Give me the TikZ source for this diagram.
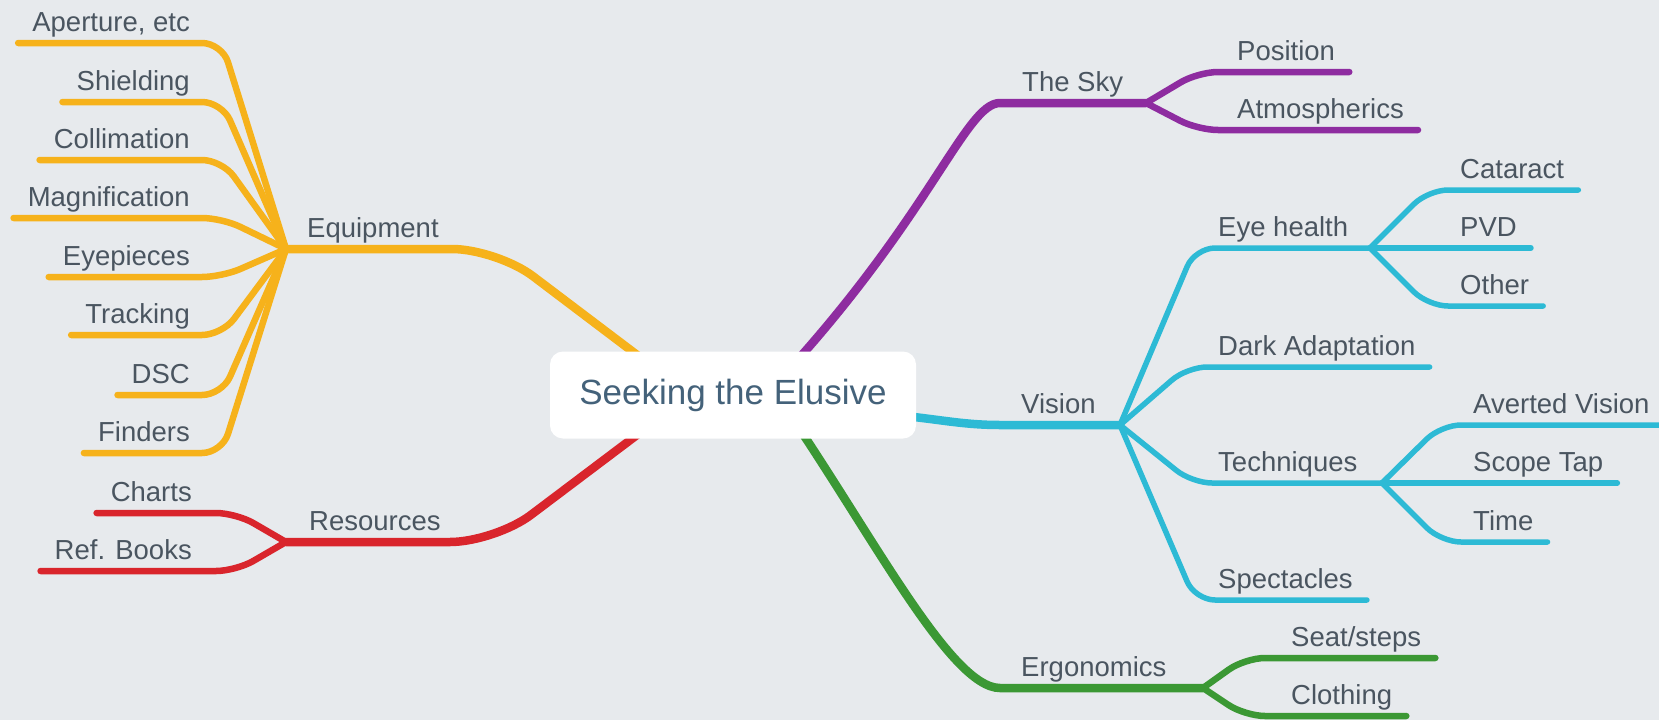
\documentclass[tikz,border=0pt]{standalone}
\usepackage{fontspec}
\setmainfont{Liberation Sans}
\usetikzlibrary{backgrounds}

\definecolor{paper}{HTML}{E7EAED}
\definecolor{inkgray}{HTML}{4A5560}
\definecolor{inkblue}{HTML}{44627A}
\definecolor{equipcol}{HTML}{F6B21B}
\definecolor{skycol}{HTML}{8E2CA0}
\definecolor{visioncol}{HTML}{2DBAD5}
\definecolor{rescol}{HTML}{D9252C}
\definecolor{ergocol}{HTML}{3B9834}

\begin{document}
\begin{tikzpicture}[
        x=1pt, y=1pt,
        topic/.style={rectangle, fill=white, rounded corners=13pt, minimum width=366pt, minimum height=87pt, text=inkblue, font=\fontsize{35}{40}\selectfont},
        lbl/.style={inner xsep=14pt, inner ysep=5pt, text height=20pt, text depth=6pt, text=inkgray, font=\fontsize{27.5}{32}\selectfont},
        lleaf/.style={lbl, anchor=south east},
        rleaf/.style={lbl, anchor=south west},
        branch/.style={line width=8.5pt, line cap=round, rounded corners=45pt},
        curvedbranch/.style={line width=8.5pt, line cap=round, sharp corners},
        twig/.style={line width=6.5pt, line cap=round, rounded corners=20pt},
        thintwig/.style={twig, line width=5.5pt},
    ]

    % paper
    \begin{scope}[on background layer]
        \fill[paper] (0,0) rectangle (1659,-720);
    \end{scope}
    \useasboundingbox (0,0) rectangle (1659,-720);

    % === CENTRAL TOPIC ===
    \node[topic] (root) at (733,-395) {Seeking the Elusive};

    % === HUBS ===
    \coordinate (eqhub) at (286,-249);
    \coordinate (reshub) at (286,-542);
    \coordinate (skyhub) at (1146,-103);
    \coordinate (vishub) at (1120,-425);
    \coordinate (ergohub) at (1203,-688);
    \coordinate (eyehub) at (1370,-248);
    \coordinate (techhub) at (1382,-483);

    % === MAIN TOPICS ===
    \node[rleaf] (equip) at (293,-249) {Equipment};
    \node[rleaf] (res) at (295,-542) {Resources};
    \node[rleaf] (sky) at (1008,-103) {The Sky};
    \node[rleaf] (vision) at (1007,-425) {Vision};
    \node[rleaf] (ergo) at (1007,-688) {Ergonomics};

    % Equipment leaves
    \node[lleaf] (aperture) at (204,-43) {Aperture, etc};
    \node[lleaf] (shielding) at (204,-102) {Shielding};
    \node[lleaf] (collim) at (204,-160) {Collimation};
    \node[lleaf] (magnif) at (204,-218) {Magnification};
    \node[lleaf] (eyepc) at (204,-277) {Eyepieces};
    \node[lleaf] (track) at (204,-335) {Tracking};
    \node[lleaf] (dsc) at (204,-395) {DSC};
    \node[lleaf] (finders) at (204,-453) {Finders};

    % Resources leaves
    \node[lleaf] (charts) at (206,-513) {Charts};
    \node[lleaf] (refbooks) at (206,-571) {Ref. Books};

    % Sky leaves
    \node[rleaf] (position) at (1223,-72) {Position};
    \node[rleaf] (atmos) at (1223,-130) {Atmospherics};

    % Vision subtopics
    \node[rleaf] (eyehealth) at (1204,-248) {Eye health};
    \node[rleaf] (dark) at (1204,-367) {Dark Adaptation};
    \node[rleaf] (tech) at (1204,-483) {Techniques};
    \node[rleaf] (spect) at (1204,-600) {Spectacles};

    \node[rleaf] (cataract) at (1446,-190) {Cataract};
    \node[rleaf] (pvd) at (1446,-248) {PVD};
    \node[rleaf] (other) at (1446,-306) {Other};

    \node[rleaf] (averted) at (1459,-425) {Averted Vision};
    \node[rleaf] (scopetap) at (1459,-483) {Scope Tap};
    \node[rleaf] (time) at (1459,-542) {Time};

    % Ergonomics leaves
    \node[rleaf] (seat) at (1277,-658) {Seat/steps};
    \node[rleaf] (clothing) at (1277,-716) {Clothing};

    % === CONNECTORS (under the topic box) ===
    \begin{scope}[on background layer]
        % main branches
        \draw[branch, equipcol] ([shift={(-43,0)}]root.center) -- (497,-249) -- (eqhub);
        \draw[branch, rescol] ([shift={(-43,0)}]root.center) -- (495,-542) -- (reshub);
        \draw[curvedbranch, skycol] ([shift={(37,5)}]root.center) .. controls (930,-220) and (965,-103) .. (1000,-103) -- (skyhub);
        \draw[curvedbranch, visioncol] ([shift={(147,-19)}]root.center) .. controls (930,-417) and (957,-425) .. (1000,-425) -- (vishub);
        \draw[curvedbranch, ergocol] ([shift={(47,-5)}]root.center) .. controls (870,-530) and (950,-688) .. (1000,-688) -- (ergohub);

        % Equipment fan
        \draw[twig, equipcol] (eqhub) -- ([xshift=18pt]aperture.south east) -- (aperture.south west);
        \draw[twig, equipcol] (eqhub) -- ([xshift=18pt]shielding.south east) -- (shielding.south west);
        \draw[twig, equipcol] (eqhub) -- ([xshift=18pt]collim.south east) -- (collim.south west);
        \draw[twig, equipcol] (eqhub) -- ([xshift=18pt]magnif.south east) -- (magnif.south west);
        \draw[twig, equipcol] (eqhub) -- ([xshift=18pt]eyepc.south east) -- (eyepc.south west);
        \draw[twig, equipcol] (eqhub) -- ([xshift=18pt]track.south east) -- (track.south west);
        \draw[twig, equipcol] (eqhub) -- ([xshift=18pt]dsc.south east) -- (dsc.south west);
        \draw[twig, equipcol] (eqhub) -- ([xshift=18pt]finders.south east) -- (finders.south west);

        % Resources
        \draw[twig, rescol] (reshub) -- ([xshift=30pt]charts.south east) -- (charts.south west);
        \draw[twig, rescol] (reshub) -- ([xshift=30pt]refbooks.south east) -- (refbooks.south west);

        % The Sky
        \draw[twig, skycol] (skyhub) -- ([xshift=-25pt]position.south west) -- (position.south east);
        \draw[twig, skycol] (skyhub) -- ([xshift=-25pt]atmos.south west) -- (atmos.south east);

        % Vision
        \draw[thintwig, visioncol] (vishub) -- ([xshift=-9pt]eyehealth.south west) -- (eyehub);
        \draw[thintwig, visioncol] (vishub) -- ([xshift=-17pt]dark.south west) -- (dark.south east);
        \draw[thintwig, visioncol] (vishub) -- ([xshift=-12pt]tech.south west) -- (techhub);
        \draw[thintwig, visioncol] (vishub) -- ([xshift=-9pt]spect.south west) -- (spect.south east);

        \draw[thintwig, visioncol] (eyehub) -- ([xshift=-18pt]cataract.south west) -- (cataract.south east);
        \draw[thintwig, visioncol] (eyehub) -- (pvd.south east);
        \draw[thintwig, visioncol] (eyehub) -- ([xshift=-18pt]other.south west) -- (other.south east);

        \draw[thintwig, visioncol] (techhub) -- ([xshift=-18pt]averted.south west) -- (averted.south east);
        \draw[thintwig, visioncol] (techhub) -- (scopetap.south east);
        \draw[thintwig, visioncol] (techhub) -- ([xshift=-18pt]time.south west) -- (time.south east);

        % Ergonomics
        \draw[twig, ergocol] (ergohub) -- ([xshift=-32pt]seat.south west) -- (seat.south east);
        \draw[twig, ergocol] (ergohub) -- ([xshift=-32pt]clothing.south west) -- (clothing.south east);
    \end{scope}

\end{tikzpicture}
\end{document}
